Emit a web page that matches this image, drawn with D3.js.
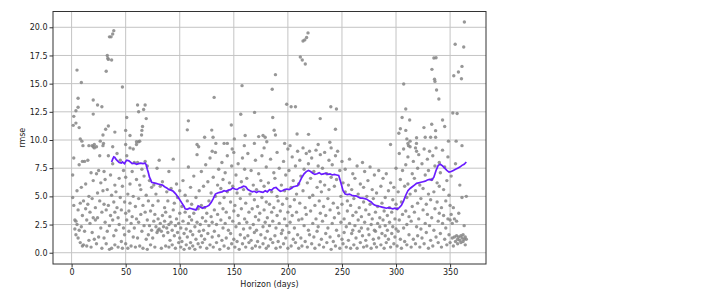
<!DOCTYPE html>
<html>
<head>
<meta charset="utf-8">
<script src="https://cdn.jsdelivr.net/npm/d3@7"></script>
<style>
  body { margin: 0; background: #fff; }
  text { font-family: 'DejaVu Sans', sans-serif; fill: #1a1a1a; }
</style>
</head>
<body>
<div id="graf"></div>
<script>
// rmse per horizon (scatter)
const upperPoints = [
  [2,12.1],[5,16.2],[9,15.1],[6,13.7],[6,12.9],[4,12.6],[4,11.5],[1.5,11.3],[7,11.1],[8,10.1],[9.5,9.9],[10.5,9.5],
  [16,9.5],[19,9.5],[21,9.6],[23,9.4],[20,13.55],[20,12.3],[24,13.1],[28,12.95],[29,10.45],[31.5,10.95],[34,11.24],
  [29.5,9.7],[26.5,9.9],[32,16.1],[33,17.5],[33.5,17.25],[34,17.15],[37,17.1],[35,19.15],[36.5,19.15],[38,19.4],
  [39,19.7],[40,10.7],[38,9.4],[47,14.7],[50,10.85],[51,12.0],[54,10.4],[50,9.6],[54,9.3],[57,9.2],[61,13.1],
  [62,12.5],[66.6,12.7],[68,13.1],[69,11.9],[65.6,11.2],[65,10.85],[64.7,10.45],[60,9.85],[62,9.85],[63,9.9],
  [107,10.9],[108,11.7],[116,9.6],[117.5,9.4],[123,10.25],[130.8,10.25],[129.6,10.88],[131.8,13.78],[133.4,9.7],
  [141,9.7],[144,9.7],[147.7,11.33],[150.5,10.1],[156.4,12.28],[157.6,14.82],[160.5,10.4],[159.7,9.5],[148.5,9.2],
  [214,18.78],[215.6,18.88],[217.3,19.1],[218.6,19.5],[211.5,17.37],[213.3,17.1],[216.1,16.74],[188.5,15.8],
  [185.5,14.5],[198.9,13.17],[203,12.95],[207,12.95],[239.7,12.95],[244.9,12.75],[229.9,11.9],[186,12.0],
  [169.2,12.45],[187.3,10.86],[188.5,10.45],[208.5,10.53],[219.1,10.5],[244,10.95],[173,10.3],[177,10.4],
  [179,10.25],[180.5,9.84],[197,9.7],[202,9.5],[238.8,9.8],[228,9.6],[169,9.7],[178,9.3],
  [363.2,20.47],[354.7,18.49],[362.6,18.25],[307.1,14.97],[335,17.28],[337,17.3],[333.2,16.27],[335.6,15.4],
  [336,15.2],[337.5,14.43],[339.6,13.64],[353.4,15.7],[357.7,16.03],[361,16.53],[360.5,15.44],[352.5,12.4],
  [356.5,12.35],[309,12.75],[305.6,12.0],[312.6,11.77],[304,11.0],[309,10.85],[302.6,10.6],[325.8,11.1],
  [343,11.78],[345,11.2],[333,11.4],[336.6,10.83],[336.6,10.25],[327,10.25],[332,10.25],[319,10.2],[310,10.1],
  [313,9.9],[311,9.7],[311.5,9.5],[318,9.3],[294.9,9.6],[348.5,9.9],[355.6,9.9],[361,9.5],[318.9,9.7]
]

const lowerPoints = [
  [1,6.9],[1,4.9],[2,8.4],[2,4.2],[3,2.9],[3,2.1],[4,1.6],[4,2.8],[5,5.5],[5,2.5],[6,1.3],[6,3.8],[7,7.8],[7,2.0],[8,0.9],[8,4.4],[9,2.3],[9,5.8],[10,8.1],[10,0.6],[10,3.3],
  [11,0.7],[11,4.6],[12,8.1],[12,1.9],[13,3.9],[13,6.1],[14,0.6],[14,2.9],[15,8.2],[15,4.3],[16,1.1],[16,5.0],[17,2.6],[17,3.6],[18,0.5],[18,7.1],[19,1.8],[19,4.8],[20,9.4],[20,3.1],[20,6.4],
  [21,1.2],[21,9.3],[22,2.9],[22,4.0],[23,7.0],[23,0.8],[24,5.3],[24,3.1],[25,7.3],[25,1.4],[26,8.6],[26,4.6],[27,2.2],[27,6.2],[28,3.6],[28,0.4],[29,9.5],[29,5.5],[30,1.3],[30,4.3],[30,7.2],
  [31,2.7],[31,6.5],[32,0.8],[32,3.8],[33,5.6],[33,1.9],[34,8.6],[34,4.2],[35,0.3],[35,2.4],[36,6.9],[36,3.3],[37,5.1],[37,0.4],[38,2.9],[38,7.9],[39,4.5],[39,1.5],[40,6.0],[40,3.6],[40,0.7],
  [41,5.4],[41,2.0],[42,4.0],[42,8.8],[43,0.5],[43,3.1],[44,6.6],[44,2.5],[45,8.2],[45,4.9],[46,1.0],[46,3.8],[47,5.9],[47,0.4],[48,2.2],[48,7.3],[49,4.5],[49,1.6],[50,3.5],[50,6.7],[50,0.8],
  [51,8.6],[51,2.9],[52,5.2],[52,0.4],[53,3.7],[53,1.9],[54,6.1],[54,4.4],[55,0.6],[55,2.6],[56,7.2],[56,3.2],[57,1.4],[57,5.0],[58,8.0],[58,2.2],[59,4.1],[59,0.5],[60,6.5],[60,3.0],[60,9.6],
  [61,8.0],[61,1.3],[62,4.8],[62,2.7],[63,0.6],[63,6.0],[64,3.4],[64,5.6],[65,1.9],[65,7.4],[66,0.4],[66,4.2],[67,2.4],[67,6.8],[68,8.1],[68,3.6],[69,1.2],[69,5.1],[70,2.9],[70,0.3],[70,7.7],
  [71,4.6],[71,1.6],[72,2.4],[72,6.4],[73,3.7],[73,0.7],[74,5.8],[74,2.0],[75,4.2],[75,1.3],[76,2.8],[76,6.0],[77,3.4],[77,0.5],[78,5.2],[78,2.3],[79,7.5],[79,1.8],[80,3.0],[80,4.6],[80,2.0],
  [81,8.2],[81,2.1],[82,2.6],[82,5.9],[83,0.4],[83,1.9],[84,3.3],[84,6.3],[85,2.3],[85,1.5],[86,4.0],[86,2.8],[87,0.6],[87,3.6],[88,5.4],[88,2.2],[89,1.8],[89,4.6],[90,2.5],[90,7.2],[90,0.5],
  [91,3.2],[91,1.1],[92,2.7],[92,5.7],[93,0.7],[93,2.0],[94,8.3],[94,3.8],[95,1.5],[95,4.4],[96,2.4],[96,0.4],[97,6.1],[97,3.0],[98,1.8],[98,4.9],[99,0.9],[99,2.6],[100,3.5],[100,1.3],[100,5.5],
  [101,0.5],[101,2.2],[102,4.1],[102,1.0],[103,2.8],[103,6.4],[104,0.3],[104,1.7],[105,3.6],[105,5.1],[106,2.1],[106,0.7],[107,4.6],[107,1.4],[108,2.6],[108,7.6],[109,0.4],[109,3.2],[110,1.9],[110,5.8],[110,0.9],
  [111,2.9],[111,4.3],[112,0.6],[112,1.6],[113,3.5],[113,6.8],[114,2.3],[114,0.3],[115,4.9],[115,1.2],[116,2.7],[116,8.7],[117,0.8],[117,3.9],[118,1.9],[118,5.5],[119,2.5],[119,0.5],[120,4.2],[120,7.2],[120,1.5],
  [121,3.1],[121,0.9],[122,5.9],[122,2.0],[123,1.2],[123,4.0],[124,7.8],[124,2.8],[125,0.4],[125,3.5],[126,6.3],[126,1.7],[127,4.6],[127,2.4],[128,8.4],[128,0.7],[129,3.2],[129,5.3],[130,1.4],[130,9.0],[130,2.7],
  [131,6.7],[131,0.5],[132,3.8],[132,1.9],[133,8.9],[133,5.0],[134,2.5],[134,0.9],[135,6.0],[135,3.4],[136,1.5],[136,7.4],[137,4.4],[137,0.3],[138,2.9],[138,5.7],[139,1.1],[139,8.0],[140,3.9],[140,2.2],[140,6.5],
  [141,0.6],[141,4.9],[142,7.1],[142,2.6],[143,1.3],[143,3.6],[144,8.6],[144,5.4],[145,0.4],[145,2.0],[146,6.2],[146,3.1],[147,4.5],[147,1.7],[148,7.7],[148,0.8],[149,2.8],[149,5.9],[150,3.7],[150,1.2],[150,8.9],
  [151,4.2],[151,0.5],[152,6.9],[152,2.3],[153,1.0],[153,5.3],[154,3.3],[154,7.9],[155,0.3],[155,2.6],[156,4.8],[156,1.6],[157,6.3],[157,3.9],[158,0.8],[158,8.4],[159,2.1],[159,5.6],[160,1.3],[160,3.0],[160,7.4],
  [161,0.5],[161,4.4],[162,2.7],[162,6.6],[163,1.5],[163,8.8],[164,3.6],[164,0.9],[165,5.2],[165,2.2],[166,7.3],[166,1.1],[167,3.9],[167,0.4],[168,6.0],[168,2.5],[169,4.7],[169,1.8],[170,8.2],[170,3.2],[170,0.6],
  [171,5.6],[171,2.0],[172,1.0],[172,4.1],[173,7.0],[173,2.9],[174,0.5],[174,3.5],[175,6.4],[175,1.6],[176,4.9],[176,8.6],[177,2.3],[177,0.8],[178,3.8],[178,5.9],[179,1.3],[179,2.7],[180,7.6],[180,4.5],[180,0.4],
  [181,3.1],[181,1.9],[182,6.2],[182,0.6],[183,4.3],[183,2.4],[184,8.3],[184,1.2],[185,3.6],[185,5.4],[186,0.9],[186,2.8],[187,7.1],[187,4.0],[188,1.5],[188,6.6],[189,2.2],[189,0.4],[190,5.0],[190,3.3],[190,8.9],
  [191,1.0],[191,4.6],[192,2.6],[192,7.5],[193,0.5],[193,3.7],[194,6.0],[194,1.7],[195,4.3],[195,2.0],[196,8.1],[196,0.8],[197,5.5],[197,3.0],[198,1.3],[198,6.9],[199,2.4],[199,4.8],[200,0.4],[200,3.6],[200,9.2],
  [201,7.3],[201,1.8],[202,4.1],[202,2.7],[203,0.6],[203,5.8],[204,8.5],[204,3.3],[205,1.2],[205,6.4],[206,2.2],[206,4.7],[207,0.9],[207,7.7],[208,3.6],[208,5.2],[209,1.6],[209,9.0],[210,2.9],[210,0.4],[210,6.1],
  [211,4.4],[211,8.2],[212,1.3],[212,6.8],[213,3.0],[213,0.6],[214,5.5],[214,9.3],[215,2.4],[215,7.4],[216,1.0],[216,4.0],[217,8.8],[217,3.4],[218,0.5],[218,6.2],[219,2.0],[219,7.9],[220,4.9],[220,1.6],[220,9.0],
  [221,3.7],[221,6.6],[222,0.8],[222,8.4],[223,2.6],[223,5.1],[224,1.4],[224,7.2],[225,4.2],[225,0.4],[226,9.1],[226,3.0],[227,5.8],[227,1.9],[228,7.7],[228,2.3],[229,0.7],[229,4.6],[230,6.3],[230,3.5],[230,8.7],
  [231,1.2],[231,5.4],[232,7.5],[232,2.8],[233,0.5],[233,4.1],[234,8.9],[234,6.0],[235,1.7],[235,3.3],[236,7.0],[236,0.9],[237,4.8],[237,2.2],[238,8.2],[238,5.6],[239,1.4],[239,3.8],[240,6.7],[240,0.3],[240,9.3],
  [241,2.6],[241,7.8],[242,4.4],[242,1.0],[243,5.9],[243,3.1],[244,8.6],[244,0.6],[245,6.5],[245,2.0],[246,4.0],[246,9.0],[247,1.5],[247,3.5],[248,7.3],[248,0.4],[249,5.0],[249,2.7],[250,8.1],[250,1.2],[250,4.3],
  [251,6.2],[251,0.8],[252,3.0],[252,1.8],[253,5.4],[253,7.4],[254,2.3],[254,0.5],[255,4.6],[255,3.7],[256,1.1],[256,6.0],[257,2.6],[257,8.3],[258,0.4],[258,4.2],[259,1.7],[259,5.6],[260,3.3],[260,2.0],[260,7.0],
  [261,0.7],[261,4.8],[262,2.4],[262,6.6],[263,1.3],[263,3.6],[264,7.7],[264,0.4],[265,5.2],[265,2.9],[266,1.9],[266,4.0],[267,6.1],[267,0.9],[268,3.2],[268,2.2],[269,8.0],[269,1.5],[270,4.5],[270,5.8],[270,0.5],
  [271,2.7],[271,7.2],[272,1.1],[272,3.8],[273,5.0],[273,0.6],[274,2.1],[274,6.4],[275,3.4],[275,1.6],[276,4.3],[276,7.6],[277,0.4],[277,2.5],[278,5.6],[278,3.0],[279,1.2],[279,4.8],[280,2.0],[280,6.9],[280,0.8],
  [281,3.6],[281,1.9],[282,5.3],[282,0.5],[283,2.6],[283,4.1],[284,7.3],[284,1.3],[285,3.1],[285,2.3],[286,0.7],[286,5.9],[287,4.4],[287,1.7],[288,2.9],[288,6.6],[289,0.4],[289,3.7],[290,1.5],[290,4.9],[290,2.4],
  [291,7.0],[291,0.9],[292,3.3],[292,2.0],[293,5.5],[293,1.2],[294,4.0],[294,2.7],[295,0.5],[295,6.2],[296,3.6],[296,1.7],[297,4.7],[297,2.3],[298,0.8],[298,5.8],[299,3.0],[299,1.4],[300,7.5],[300,4.3],[300,2.1],
  [301,0.6],[301,3.9],[302,5.4],[302,1.9],[303,8.8],[303,2.9],[304,1.2],[304,6.5],[305,4.5],[305,0.4],[306,7.3],[306,3.4],[307,2.2],[307,9.2],[308,5.9],[308,1.0],[309,3.7],[309,7.8],[310,0.7],[310,4.9],[310,2.5],
  [311,8.5],[311,6.1],[312,1.6],[312,3.2],[313,9.4],[313,5.2],[314,0.5],[314,2.8],[315,7.0],[315,4.1],[316,1.2],[316,8.1],[317,3.6],[317,6.6],[318,0.8],[318,5.5],[319,2.3],[319,9.0],[320,4.4],[320,1.5],[320,7.5],
  [321,3.0],[321,8.7],[322,0.5],[322,6.0],[323,2.1],[323,4.8],[324,7.9],[324,1.3],[325,3.8],[325,5.7],[326,0.8],[326,9.2],[327,2.6],[327,6.9],[328,4.3],[328,1.8],[329,8.3],[329,3.4],[330,0.4],[330,5.2],[330,7.3],
  [331,2.4],[331,9.0],[332,4.7],[332,1.1],[333,6.5],[333,3.1],[334,8.6],[334,0.6],[335,5.4],[335,2.0],[336,7.7],[336,3.9],[337,1.4],[337,9.3],[338,4.5],[338,6.2],[339,0.9],[339,2.8],[340,8.0],[340,3.5],[340,5.9],
  [341,1.7],[341,7.1],[342,4.0],[342,0.5],[343,9.1],[343,2.6],[344,5.6],[344,3.3],[345,1.2],[345,7.6],[346,4.6],[346,2.2],[347,0.7],[347,6.4],[348,3.0],[348,8.5],[349,1.6],[349,5.1],[350,2.9],[350,4.2],[350,0.9],
  [351,3.4],[351,6.8],[352,1.3],[352,2.6],[353,0.6],[353,4.0],[354,3.0],[354,1.4],[355,1.0],[355,7.9],[356,1.5],[356,2.8],[357,1.2],[357,0.8],[358,1.4],[358,3.5],[359,1.1],[359,6.0],[360,1.5],[360,0.9],
  [361,1.3],[361,4.9],[362,1.0],[362,1.6],[363,1.2],[363,2.4],[364,0.7],[364,1.4],[365,1.2],[365,5.0]
]

// rolling mean line
const lineHorizon = [37,38,39,40,41,42,44,46,47,49,50,51,53,55,56,58,60,62,64,66,68,69,70,71,72,73,74,76,78,80,82,84,86,88,90,92,94,96,98,100,102,104,105,107,109,111,113,115,117,119,121,123,125,127,129,131,133,135,137,139,141,143,145,147,149,151,153,155,157,159,161,163,165,167,169,171,173,175,177,179,181,183,185,187,189,191,193,195,197,199,201,203,205,207,209,211,213,215,217,219,221,223,225,227,229,231,233,235,237,239,241,243,245,247,249,251,253,255,257,259,261,263,265,267,269,271,273,275,277,279,281,283,285,287,289,291,293,295,297,299,301,303,305,307,309,311,313,315,317,319,321,323,325,327,329,331,333,335,337,339,341,343,345,347,349,351,353,355,357,359,361,363,365]
const lineRmse = [8.05,8.3,8.5,8.45,8.3,8.2,8.0,7.95,8.05,7.9,8.1,8.2,8.15,8.0,7.9,7.95,7.85,7.9,7.95,7.9,7.95,7.8,7.4,7.1,6.7,6.5,6.25,6.2,6.15,6.1,6.05,6.0,5.85,5.75,5.6,5.55,5.45,5.25,5.0,4.7,4.4,4.1,3.9,3.85,3.95,3.9,3.85,3.8,4.15,4.05,3.95,4.05,4.1,4.2,4.45,4.8,5.2,5.3,5.35,5.4,5.5,5.45,5.55,5.6,5.75,5.65,5.6,5.75,5.8,5.9,5.85,5.6,5.5,5.4,5.45,5.35,5.45,5.4,5.35,5.5,5.4,5.6,5.55,5.75,5.8,5.6,5.45,5.5,5.6,5.65,5.6,5.7,5.85,5.9,5.95,6.3,6.7,7.0,7.2,7.3,7.2,7.05,6.95,7.0,7.1,6.95,7.0,7.05,6.95,7.0,6.9,6.95,6.9,6.85,6.2,5.5,5.2,5.15,5.2,5.1,5.05,5.05,4.95,4.85,4.85,4.8,4.75,4.6,4.5,4.3,4.2,4.15,4.1,4.05,4.0,3.95,4.0,3.95,3.9,3.95,3.85,4.0,4.2,4.6,5.1,5.5,5.7,5.85,6.0,6.15,6.2,6.25,6.3,6.35,6.45,6.5,6.45,6.7,7.3,7.75,7.85,7.7,7.5,7.3,7.15,7.2,7.3,7.4,7.5,7.6,7.75,7.85,8.05]

const xTicks = [0, 50, 100, 150, 200, 250, 300, 350]
const yTicks = [0, 2.5, 5, 7.5, 10, 12.5, 15, 17.5, 20]

const anchoTotal = 720
const altoTotal = 301
const margin = { top: 11.5, left: 53, right: 234, bottom: 37 }
const ancho = anchoTotal - margin.left - margin.right
const alto = altoTotal - margin.top - margin.bottom

const svg = d3.select('#graf')
  .append('svg')
  .attr('width', anchoTotal)
  .attr('height', altoTotal)

const g = svg.append('g')
  .attr('transform', `translate(${margin.left}, ${margin.top})`)

const x = d3.scaleLinear().domain([-17.2, 383.2]).range([0, ancho])
const y = d3.scaleLinear().domain([-1.0, 21.4]).range([alto, 0])

// grid
g.append('g')
  .selectAll('line')
  .data(xTicks)
  .join('line')
  .attr('x1', d => x(d)).attr('x2', d => x(d))
  .attr('y1', 0).attr('y2', alto)
  .attr('stroke', '#c4c4c4')
  .attr('stroke-width', 1)

g.append('g')
  .selectAll('line')
  .data(yTicks)
  .join('line')
  .attr('x1', 0).attr('x2', ancho)
  .attr('y1', d => y(d)).attr('y2', d => y(d))
  .attr('stroke', '#c4c4c4')
  .attr('stroke-width', 1)

// scatter
const points = upperPoints.concat(lowerPoints)
g.append('g')
  .selectAll('circle')
  .data(points)
  .join('circle')
  .attr('cx', d => x(d[0]))
  .attr('cy', d => y(d[1]))
  .attr('r', 1.7)
  .attr('fill', '#858585')
  .attr('fill-opacity', 0.85)

// rolling line
const lineData = lineHorizon.map((h, i) => [h, lineRmse[i]])
g.append('path')
  .datum(lineData)
  .attr('d', d3.line().x(d => x(d[0])).y(d => y(d[1])))
  .attr('fill', 'none')
  .attr('stroke', '#6a1cff')
  .attr('stroke-width', 1.7)

// axes
const xAxisGroup = g.append('g')
  .attr('transform', `translate(0, ${alto})`)
  .call(d3.axisBottom(x).tickValues(xTicks).tickSize(3.5).tickPadding(2))
const yAxisGroup = g.append('g')
  .call(d3.axisLeft(y).tickValues(yTicks).tickSize(3.5).tickPadding(2).tickFormat(d3.format('.1f')))

;[xAxisGroup, yAxisGroup].forEach(ax => {
  ax.select('.domain').remove()
  ax.selectAll('text').attr('font-size', 8).attr('font-family', 'DejaVu Sans')
  ax.selectAll('line').attr('stroke', '#333')
})

// frame
g.append('rect')
  .attr('x', 0).attr('y', 0)
  .attr('width', ancho).attr('height', alto)
  .attr('fill', 'none')
  .attr('stroke', '#333')
  .attr('stroke-width', 1)

svg.append('text')
  .attr('x', margin.left + ancho / 2)
  .attr('y', 287)
  .attr('text-anchor', 'middle')
  .attr('font-size', 8)
  .text('Horizon (days)')

svg.append('text')
  .attr('transform', `translate(25, ${margin.top + alto / 2}) rotate(-90)`)
  .attr('text-anchor', 'middle')
  .attr('font-size', 8)
  .text('rmse')
</script>
</body>
</html>
